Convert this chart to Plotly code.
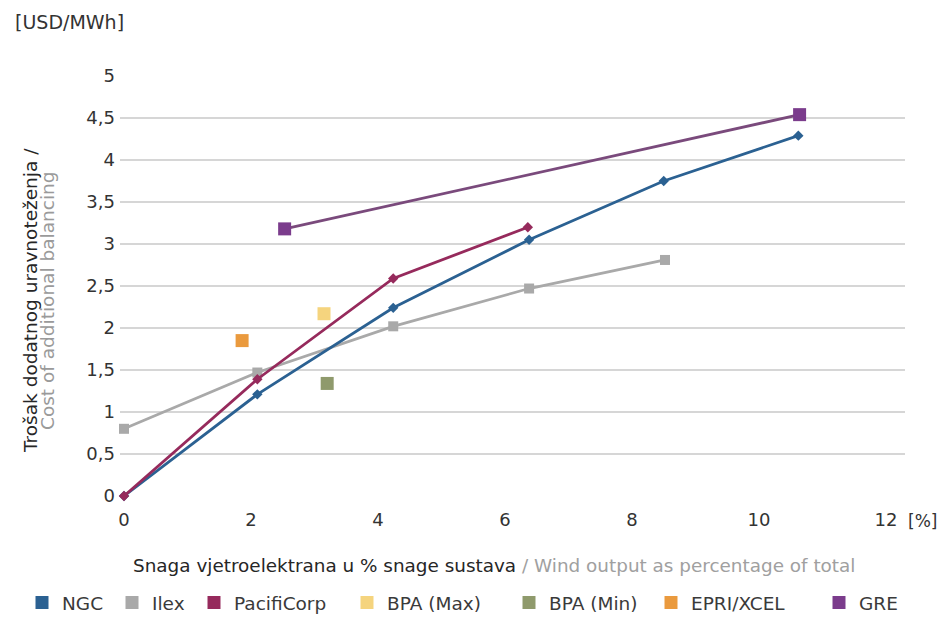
import plotly.graph_objects as go

# ---- data ----
ngc_x = [0, 2.1, 4.24, 6.38, 8.5, 10.62]
ngc_y = [0, 1.21, 2.24, 3.05, 3.75, 4.29]

ilex_x = [0, 2.1, 4.24, 6.38, 8.52]
ilex_y = [0.8, 1.47, 2.02, 2.47, 2.81]

pacifi_x = [0, 2.1, 4.24, 6.36]
pacifi_y = [0, 1.39, 2.59, 3.2]

bpa_max_x = [3.15]
bpa_max_y = [2.17]

bpa_min_x = [3.2]
bpa_min_y = [1.34]

epri_x = [1.86]
epri_y = [1.85]

gre_x = [2.53, 10.64]
gre_y = [3.18, 4.54]

y_ticks = [0, 0.5, 1, 1.5, 2, 2.5, 3, 3.5, 4, 4.5, 5]
y_tick_text = ["0", "0,5", "1", "1,5", "2", "2,5", "3", "3,5", "4", "4,5", "5"]
x_ticks = [0, 2, 4, 6, 8, 10, 12]
x_tick_text = ["0", "2", "4", "6", "8", "10", "12"]

# ---- styles ----
FONT = "DejaVu Sans, Liberation Sans, Arial"
C_NGC = "#2b6192"
C_ILEX = "#a9a9a9"
C_PAC = "#962a5c"
C_BMAX = "#f5d47e"
C_BMIN = "#8f9a6c"
C_EPRI = "#ea9a3e"
C_GRE = "#7b3c8c"
C_GRE_LINE = "#7a4a7c"

# page offset (browser body margin) compensation
OFF = 8
FW, FH = 946 - OFF, 619 - OFF
PL, PR, PT, PB = 120, 905, 76, 496   # plot area in page pixels
W = PR - PL

fig = go.Figure()

fig.add_trace(go.Scatter(x=ilex_x, y=ilex_y, mode="lines+markers", name="Ilex",
                         line=dict(color=C_ILEX, width=2.8),
                         marker=dict(symbol="square", size=10, color=C_ILEX),
                         cliponaxis=False, showlegend=False))
fig.add_trace(go.Scatter(x=ngc_x, y=ngc_y, mode="lines+markers", name="NGC",
                         line=dict(color=C_NGC, width=2.8),
                         marker=dict(symbol="diamond", size=8, color=C_NGC),
                         cliponaxis=False, showlegend=False))
fig.add_trace(go.Scatter(x=pacifi_x, y=pacifi_y, mode="lines+markers", name="PacifiCorp",
                         line=dict(color=C_PAC, width=2.8),
                         marker=dict(symbol="diamond", size=8, color=C_PAC),
                         cliponaxis=False, showlegend=False))
fig.add_trace(go.Scatter(x=bpa_max_x, y=bpa_max_y, mode="markers", name="BPA (Max)",
                         marker=dict(symbol="square", size=13, color=C_BMAX),
                         cliponaxis=False, showlegend=False))
fig.add_trace(go.Scatter(x=bpa_min_x, y=bpa_min_y, mode="markers", name="BPA (Min)",
                         marker=dict(symbol="square", size=13, color=C_BMIN),
                         cliponaxis=False, showlegend=False))
fig.add_trace(go.Scatter(x=epri_x, y=epri_y, mode="markers", name="EPRI/XCEL",
                         marker=dict(symbol="square", size=13, color=C_EPRI),
                         cliponaxis=False, showlegend=False))
fig.add_trace(go.Scatter(x=gre_x, y=gre_y, mode="lines+markers", name="GRE",
                         line=dict(color=C_GRE_LINE, width=2.8),
                         marker=dict(symbol="square", size=13, color=C_GRE),
                         cliponaxis=False, showlegend=False))

# legend entries (square swatches), one legend each so spacing matches
legend_items = [("NGC", C_NGC), ("Ilex", C_ILEX), ("PacifiCorp", C_PAC),
                ("BPA (Max)", C_BMAX), ("BPA (Min)", C_BMIN),
                ("EPRI/XCEL", C_EPRI), ("GRE", C_GRE)]
legend_px = [22, 112, 194, 347, 509, 651, 819]
layout_legends = {}
for i, ((name, col), px) in enumerate(zip(legend_items, legend_px)):
    key = "legend" if i == 0 else f"legend{i+1}"
    fig.add_trace(go.Scatter(x=[None], y=[None], mode="markers", name=name,
                             marker=dict(symbol="square", size=13, color=col),
                             legend=key, showlegend=True))
    layout_legends[key] = dict(x=(px - OFF) / FW, xref="container", xanchor="left",
                               y=1 - (603 - OFF) / FH, yref="container", yanchor="middle",
                               orientation="h", bgcolor="rgba(0,0,0,0)",
                               font=dict(family=FONT, size=18.5, color="#3a3a3a"),
                               itemwidth=30)

fig.update_layout(
    width=FW, height=FH,
    margin=dict(l=PL - OFF, r=FW - (PR - OFF), t=PT - OFF, b=FH - (PB - OFF), autoexpand=False),
    paper_bgcolor="white", plot_bgcolor="white",
    font=dict(family=FONT, size=18, color="#333333"),
    xaxis=dict(range=[-0.063, 12.3], tickvals=x_ticks, ticktext=x_tick_text,
               showgrid=False, zeroline=False, showline=False, ticks="",
               ticklabelstandoff=11,
               tickfont=dict(family=FONT, size=18, color="#333333")),
    yaxis=dict(range=[0, 5], tickvals=y_ticks, ticktext=y_tick_text,
               showgrid=True, gridcolor="#d6d6d6", gridwidth=2.2, zeroline=False,
               showline=False, ticks="", ticklabelstandoff=4,
               tickfont=dict(family=FONT, size=18, color="#333333")),
    **layout_legends,
)

def px_x(p):
    return (p - PL) / W

def px_y(p):
    return (PB - p) / (PB - PT)

fig.add_annotation(text="[USD/MWh]", x=px_x(13), y=px_y(22), xref="paper", yref="paper",
                   xanchor="left", yanchor="middle", showarrow=False,
                   font=dict(family=FONT, size=19, color="#333333"))
fig.add_annotation(text="[%]", x=px_x(906), y=px_y(521), xref="paper", yref="paper",
                   xanchor="left", yanchor="middle", showarrow=False,
                   font=dict(family=FONT, size=17, color="#333333"))
fig.add_annotation(text="Trošak dodatnog uravnoteženja /", x=px_x(30), y=px_y(301),
                   xref="paper", yref="paper", textangle=-90, showarrow=False,
                   xanchor="center", yanchor="middle",
                   font=dict(family=FONT, size=18.5, color="#262626"))
fig.add_annotation(text="Cost of additional balancing", x=px_x(47), y=px_y(301),
                   xref="paper", yref="paper", textangle=-90, showarrow=False,
                   xanchor="center", yanchor="middle",
                   font=dict(family=FONT, size=18.5, color="#9a9a9a"))
fig.add_annotation(text="<span style='color:#262626'>Snaga vjetroelektrana u % snage sustava</span>"
                        "<span style='color:#a0a0a0'> / Wind output as percentage of total</span>",
                   x=px_x(494), y=px_y(565), xref="paper", yref="paper", showarrow=False,
                   xanchor="center", yanchor="middle", font=dict(family=FONT, size=18.4))

fig.write_html("out.html")
